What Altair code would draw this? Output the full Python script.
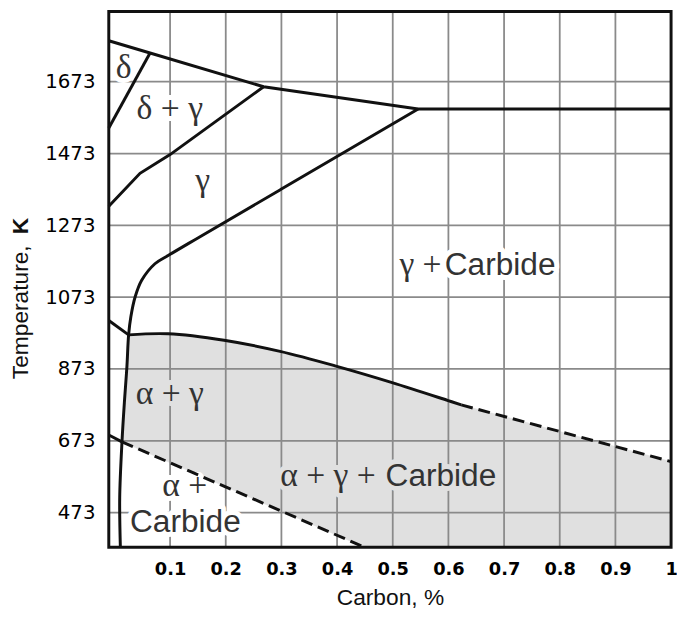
import altair as alt
import pandas as pd

# ---- axes ----
x_domain = [-0.0101, 1.0]
y_domain = [376.7, 1868.4]
x_ticks = [0.1, 0.2, 0.3, 0.4, 0.5, 0.6, 0.7, 0.8, 0.9, 1.0]
y_ticks = [473, 673, 873, 1073, 1273, 1473, 1673]

# ---- phase boundaries (Carbon %, K) ----
top_x = [-0.0101, 0.064, 0.268, 0.5456, 1.0]
top_y = [1787, 1753, 1659, 1597, 1597]
delta_x = [0.064, -0.0101]
delta_y = [1753, 1544]
dg_x = [0.268, 0.1, 0.046, -0.0101]
dg_y = [1659, 1470, 1418, 1326]
acm_x = [0.5456, 0.3, 0.15, 0.0965, 0.0728, 0.049, 0.0373, 0.0296, 0.0255,
         0.0225, 0.0183, 0.0136, 0.0095, 0.0107]
acm_y = [1597, 1374, 1238, 1189, 1166, 1120, 1074, 1019, 968,
         881, 789, 670, 514, 376.7]
a3_left_x = [-0.0101, 0.0255]
a3_left_y = [1008, 968]
a3_x = [0.0255, 0.0965, 0.197, 0.2976, 0.398, 0.4989, 0.5994, 0.6231]
a3_y = [968, 971, 953, 922, 881, 835, 785, 773]
a3_dash_x = [0.6231, 1.0]
a3_dash_y = [773, 615]
a1_left_x = [-0.0101, 0.0136]
a1_left_y = [689, 670]
a1_dash_x = [0.0136, 0.449]
a1_dash_y = [670, 376.7]

# ---- labels ----
serif_c_text = ["δ", "δ + γ", "γ", "α + γ", "α +"]
serif_c_x = [0.0166, 0.0995, 0.1586, 0.0995, 0.1261]
serif_c_y = [1684, 1568, 1370, 776, 520]
serif_c_region = ["open", "open", "open", "shaded", "open"]
serif_r_text = ["γ +", "α + γ +"]
serif_r_x = [0.5877, 0.4693]
serif_r_y = [1133.5, 546.5]
serif_r_region = ["open", "shaded"]
sans_l_text = ["Carbide", "Carbide"]
sans_l_x = [0.5935, 0.4871]
sans_l_y = [1133.5, 546.5]
sans_l_region = ["open", "shaded"]
sans_c_text = ["Carbide"]
sans_c_x = [0.1275]
sans_c_y = [418]
sans_c_region = ["open"]


def seg(name, xs, ys):
    return [{"id": name, "o": i, "x": a, "y": b} for i, (a, b) in enumerate(zip(xs, ys))]


solid_df = pd.DataFrame(seg("top", top_x, top_y) + seg("delta", delta_x, delta_y)
                        + seg("dg", dg_x, dg_y) + seg("a3l", a3_left_x, a3_left_y)
                        + seg("a1l", a1_left_x, a1_left_y))
curve_df = pd.DataFrame(seg("acm", acm_x, acm_y) + seg("a3", a3_x, a3_y))
dash_df = pd.DataFrame(seg("a3d", a3_dash_x, a3_dash_y) + seg("a1d", a1_dash_x, a1_dash_y))

# shaded alpha+gamma(+carbide) region polygon built from the boundaries
poly_x = a3_dash_x[::-1] + a3_x[::-1][1:] + [0.0225, 0.0183, 0.0136] + [a1_dash_x[1], x_domain[1]]
poly_y = a3_dash_y[::-1] + a3_y[::-1][1:] + [881, 789, 670] + [a1_dash_y[1], y_domain[0]]
poly_df = pd.DataFrame({"o": list(range(len(poly_x))), "x": poly_x, "y": poly_y})

frame_df = pd.DataFrame({"x": [x_domain[0]], "x2": [x_domain[1]],
                         "y": [y_domain[0]], "y2": [y_domain[1]]})

FILL = "#e0e0e0"

X = alt.X("x:Q", scale=alt.Scale(domain=x_domain, nice=False, zero=False),
          axis=alt.Axis(values=x_ticks,
                        labelExpr="datum.value == 1 ? '1' : format(datum.value, '.1f')",
                        grid=False, domain=False, ticks=False, tickSize=0,
                        labelFont="DejaVu Sans", labelFontWeight="bold", labelFontSize=18,
                        labelColor="#000", labelPadding=28, labelBaseline="alphabetic",
                        labelFlush=False, labelOverlap=False, labelBound=False,
                        title="Carbon, %", titleFont="Liberation Sans", titleFontSize=23,
                        titleFontWeight="normal", titleColor="#111", titleY=58,
                        titleBaseline="alphabetic"))
Y = alt.Y("y:Q", scale=alt.Scale(domain=y_domain, nice=False, zero=False),
          axis=alt.Axis(values=y_ticks, format="d", grid=False, domain=False, ticks=False,
                        tickSize=0, labelFont="DejaVu Sans", labelFontSize=20,
                        labelColor="#000", labelPadding=14, labelOverlap=False,
                        title=None))
BG = alt.Scale(domain=["open", "shaded"], range=["white", FILL])

fill = alt.Chart(poly_df).mark_line(fill=FILL, stroke=FILL, strokeWidth=0.5).encode(
    x=X, y=Y, order="o:Q")

gx = alt.Chart(pd.DataFrame({"x": x_ticks})).mark_rule(color="#8a8a8a", strokeWidth=1.8).encode(x=X)
gy = alt.Chart(pd.DataFrame({"y": y_ticks})).mark_rule(color="#8a8a8a", strokeWidth=1.8).encode(y=Y)

solid = alt.Chart(solid_df).mark_line(color="#111", strokeWidth=3).encode(
    x=X, y=Y, detail="id:N", order="o:Q")
curve = alt.Chart(curve_df).mark_line(color="#111", strokeWidth=3, interpolate="catmull-rom").encode(
    x=X, y=Y, detail="id:N", order="o:Q")
dash = alt.Chart(dash_df).mark_line(color="#111", strokeWidth=3, strokeDash=[12, 6]).encode(
    x=X, y=Y, detail="id:N", order="o:Q")

frame = alt.Chart(frame_df).mark_rect(filled=False, color="#111", strokeWidth=3).encode(
    x=X, x2="x2:Q", y=Y, y2="y2:Q")

SERIF = "Liberation Serif"
SANS = "Liberation Sans"
label_sets = [
    (serif_c_text, serif_c_x, serif_c_y, serif_c_region, SERIF, 34, "center"),
    (serif_r_text, serif_r_x, serif_r_y, serif_r_region, SERIF, 34, "right"),
    (sans_l_text, sans_l_x, sans_l_y, sans_l_region, SANS, 32, "left"),
    (sans_c_text, sans_c_x, sans_c_y, sans_c_region, SANS, 32, "center"),
]
halos = []
texts = []
for t, xs, ys, rg, font, size, align in label_sets:
    df = pd.DataFrame({"x": xs, "y": ys, "t": t, "region": rg})
    base = alt.Chart(df)
    halos.append(base.mark_text(font=font, fontSize=size, align=align, baseline="alphabetic",
                                strokeWidth=10, strokeJoin="round").encode(
        x=X, y=Y, text="t:N",
        stroke=alt.Stroke("region:N", scale=BG, legend=None),
        fill=alt.Fill("region:N", scale=BG, legend=None)))
    texts.append(base.mark_text(font=font, fontSize=size, color="#333", align=align,
                                baseline="alphabetic").encode(x=X, y=Y, text="t:N"))

ytitle1 = alt.Chart(pd.DataFrame({"t": ["Temperature,"]})).mark_text(
    font=SANS, fontSize=23, color="#111", angle=270, align="left", baseline="middle").encode(
    x=alt.value(-89), y=alt.value(372), text="t:N")
ytitle2 = alt.Chart(pd.DataFrame({"t": ["K"]})).mark_text(
    font=SANS, fontSize=23, fontWeight="bold", color="#111", angle=270, align="right",
    baseline="middle").encode(x=alt.value(-89), y=alt.value(208.7), text="t:N")

chart = alt.layer(fill, gx, gy, *halos, solid, curve, dash, frame, *texts, ytitle1, ytitle2).properties(
    width=569, height=542,
    autosize=alt.AutoSizeParams(type="none"),
    padding={"left": 102, "top": 0, "right": 6, "bottom": 62},
    background="white",
).configure_view(stroke=None)

chart.save("out.html", embed_options={"renderer": "svg", "actions": False})
